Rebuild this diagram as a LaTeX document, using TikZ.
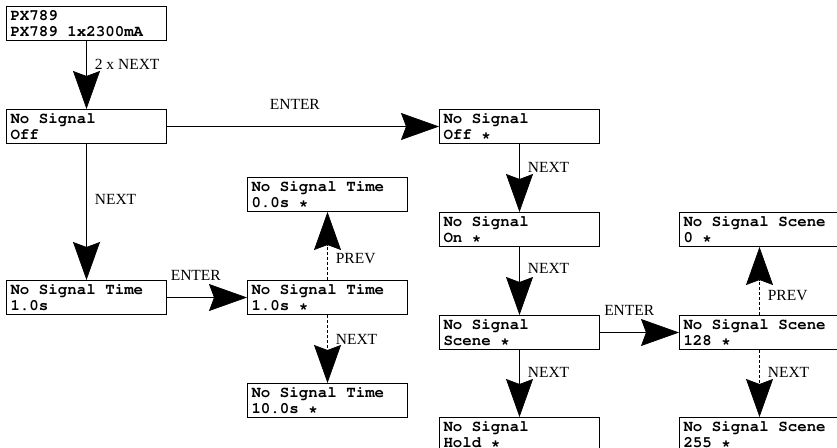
\documentclass[tikz,border=0pt]{standalone}
\usepackage{fontspec}
\setmainfont{Liberation Serif}
\usetikzlibrary{positioning, arrows.meta}
\newcommand{\lcdfont}{\fontencoding{T1}\fontfamily{pcr}\fontseries{b}\fontsize{15.8}{16}\selectfont}
\tikzset{
    lcd/.style={rectangle, draw=black, line width=1pt, fill=white, text width=152pt, minimum height=34pt, inner xsep=4pt, inner ysep=1pt, align=flush left, font=\lcdfont},
    go/.style={line width=0.7pt, -{Stealth[length=38pt, width=27pt, inset=5pt]}},
    alt/.style={go, dash pattern=on 3pt off 2pt},
    key/.style={inner sep=1pt, font=\fontsize{15.5}{16}\selectfont},
}

\begin{document}
\begin{tikzpicture}[x=1pt, y=-1pt, node distance=68pt]
    \useasboundingbox (0,0) rectangle (837,447);
    \node [lcd, anchor=north west] (px) at (6,6) {PX789\\PX789 1x2300mA};
    \node [lcd] (off) [below=of px] {No Signal\\Off};
    \node [lcd] (nstime) [below=136pt of off] {No Signal Time\\1.0s};
    \node [lcd] (tone) [right=80pt of nstime] {No Signal Time\\1.0s *};
    \node [lcd] (tzero) [above=of tone] {No Signal Time\\0.0s *};
    \node [lcd] (tten) [below=of tone] {No Signal Time\\10.0s *};
    \node [lcd] (offsel) [right=272pt of off] {No Signal\\Off *};
    \node [lcd] (onsel) [below=of offsel] {No Signal\\On *};
    \node [lcd] (scenesel) [below=of onsel] {No Signal\\Scene *};
    \node [lcd] (holdsel) [below=67pt of scenesel] {No Signal\\Hold *};
    \node [lcd] (scmid) [right=79pt of scenesel] {No Signal Scene\\128 *};
    \node [lcd] (sczero) [above=of scmid] {No Signal Scene\\0 *};
    \node [lcd] (scmax) [below=67pt of scmid] {No Signal Scene\\255 *};
    \draw[go] (px) -- node[key, right=7pt, pos=.34] {2 x NEXT} (off);
    \draw[go] (off) -- node[key, right=7pt, pos=.41] {NEXT} (nstime);
    \draw[go] (off) -- node[key, above=16pt, pos=.47] {ENTER} (offsel);
    \draw[go] (nstime) -- node[key, above=16pt, pos=.36] {ENTER} (tone);
    \draw[alt] (tone) -- node[key, right=7pt, pos=.31] {PREV} (tzero);
    \draw[alt] (tone) -- node[key, right=7pt, pos=.36] {NEXT} (tten);
    \draw[go] (offsel) -- node[key, right=7pt, pos=.34] {NEXT} (onsel);
    \draw[go] (onsel) -- node[key, right=7pt, pos=.32] {NEXT} (scenesel);
    \draw[go] (scenesel) -- node[key, right=7pt, pos=.34] {NEXT} (holdsel);
    \draw[go] (scenesel) -- node[key, above=16pt, pos=.37] {ENTER} (scmid);
    \draw[alt] (scmid) -- node[key, right=7pt, pos=.29] {PREV} (sczero);
    \draw[alt] (scmid) -- node[key, right=7pt, pos=.34] {NEXT} (scmax);
\end{tikzpicture}
\end{document}
